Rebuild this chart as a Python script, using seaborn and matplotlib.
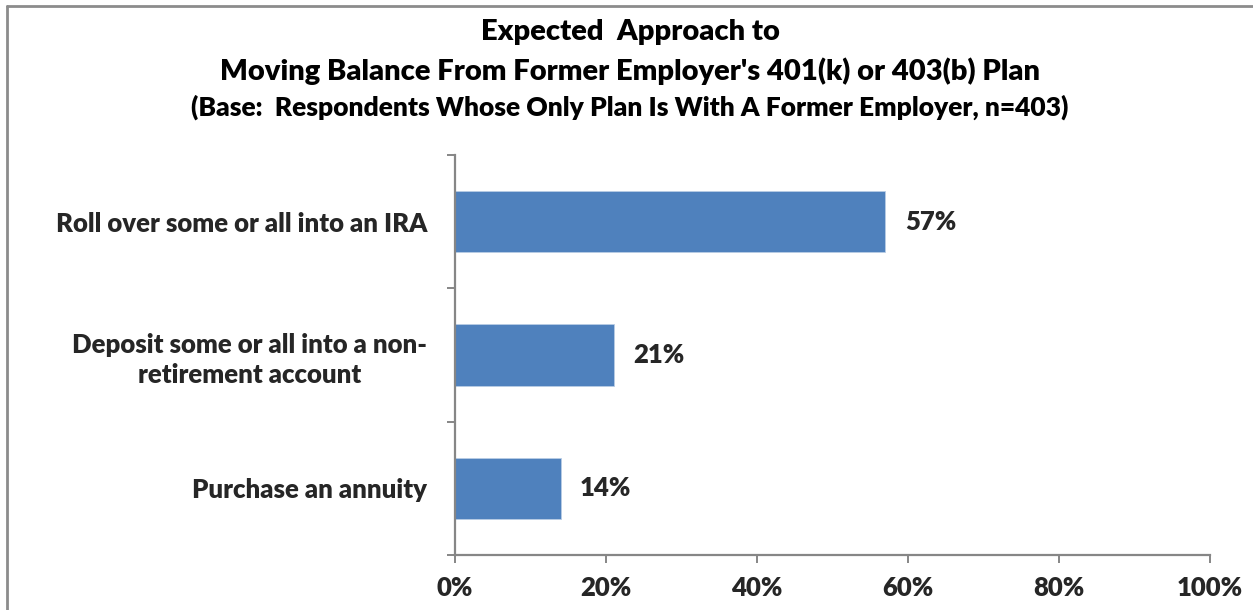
import matplotlib
matplotlib.use("Agg")
import matplotlib.pyplot as plt
from matplotlib.lines import Line2D
import seaborn as sns
import pandas as pd

categories = [
    "Roll over some or all into an IRA",
    "Deposit some or all into a non-\nretirement account",
    "Purchase an annuity",
]
shares = [57, 21, 14]
x_ticks = [0, 20, 40, 60, 80, 100]
x_tick_labels = ["0%", "20%", "40%", "60%", "80%", "100%"]
title_lines = [
    "Expected  Approach to",
    "Moving Balance From Former Employer's 401(k) or 403(b) Plan",
    "(Base:  Respondents Whose Only Plan Is With A Former Employer, n=403)",
]

sns.set_theme(style="white")
plt.rcParams["font.family"] = ["Lato", "DejaVu Sans"]
WEIGHT = "heavy"

W, H = 1253, 610
fig = plt.figure(figsize=(W / 100, H / 100), dpi=100)
ax = fig.add_axes([455 / W, 55 / H, (1210 - 455) / W, (555 - 155) / H])

df = pd.DataFrame({"category": categories, "share": shares})
sns.barplot(data=df, x="share", y="category", orient="h", color="#4F81BD",
            saturation=1, width=0.46, edgecolor="#B9CDE5", linewidth=0.6, ax=ax)

ax.set_xlim(0, 100)
ax.set_ylim(2.5, -0.5)
ax.set_xlabel("")
ax.set_ylabel("")

spine_color = "#868686"
for side in ["top", "right"]:
    ax.spines[side].set_visible(False)
for side in ["left", "bottom"]:
    ax.spines[side].set_color(spine_color)
    ax.spines[side].set_linewidth(1.6)

ax.set_xticks(x_ticks)
ax.set_xticklabels(x_tick_labels, fontsize=18.5, fontweight=WEIGHT)
ax.tick_params(axis="x", direction="out", length=6, width=1.4, color=spine_color,
               pad=9, bottom=True)

# category ticks sit between the bands
ax.set_yticks(range(len(categories)))
ax.set_yticklabels(categories, fontsize=18.5, fontweight=WEIGHT,
                   multialignment="center", linespacing=1.3)
ax.set_yticks([-0.5, 0.5, 1.5, 2.5], minor=True)
ax.tick_params(axis="y", which="major", length=0, pad=20)
ax.tick_params(axis="y", which="minor", direction="out", length=6, width=1.4,
               color=spine_color, left=True)

for container in ax.containers:
    ax.bar_label(container, labels=[f"{v}%" for v in shares], padding=14,
                 fontsize=18.5, fontweight=WEIGHT)

for i, line in enumerate(title_lines):
    fig.text(630 / W, 1 - [32, 71, 107][i] / H, line, ha="center", va="center",
             fontsize=[21, 21, 19][i], fontweight=WEIGHT, color="black")

# outer frame of the chart area
frame = dict(color="#8C8C8C", linewidth=2, transform=fig.transFigure)
fig.add_artist(Line2D([7 / W, 1.0], [1 - 6 / H, 1 - 6 / H], **frame))
fig.add_artist(Line2D([7 / W, 7 / W], [0.0, 1 - 6 / H], **frame))

fig.savefig("out.png", dpi=100, facecolor="white")
